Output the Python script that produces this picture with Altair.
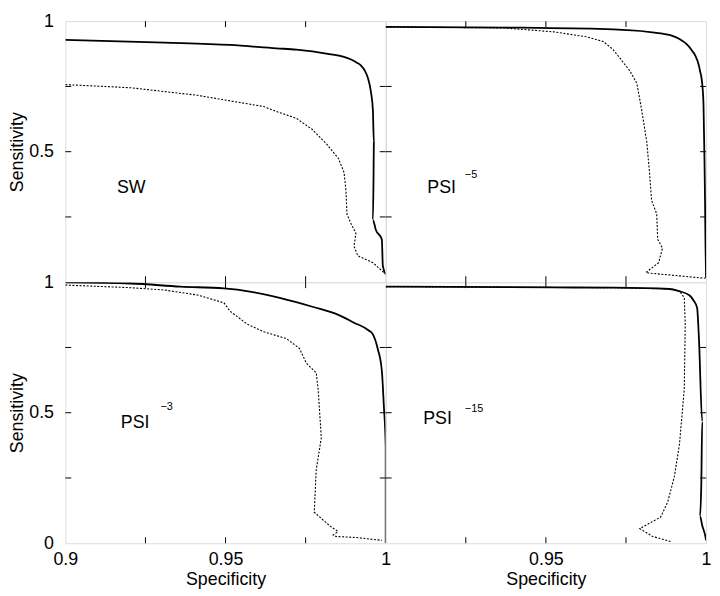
import altair as alt
import pandas as pd

# ---------------- data ----------------
# Panel SW
sw_solid_spec = [0.9000, 0.9310, 0.9514, 0.9659, 0.9721, 0.9824, 0.9867, 0.9892, 0.9910, 0.9923,
                 0.9935, 0.9944, 0.9954, 0.9960, 0.9963, 0.9962, 0.9960, 0.9969, 0.9988, 0.9991,
                 1.0000]
sw_solid_sens = [0.928, 0.918, 0.909, 0.896, 0.891, 0.874, 0.864, 0.853, 0.841, 0.830,
                 0.810, 0.784, 0.728, 0.660, 0.537, 0.400, 0.239, 0.201, 0.164, 0.063,
                 0.030]
sw_dot_spec = [0.9000, 0.9204, 0.9412, 0.9619, 0.9659, 0.9721, 0.9770, 0.9815, 0.9852, 0.9870,
               0.9876, 0.9879, 0.9892, 0.9907, 0.9901, 0.9913, 0.9960, 0.9994]
sw_dot_sens = [0.757, 0.745, 0.716, 0.673, 0.654, 0.628, 0.586, 0.530, 0.475, 0.420,
               0.350, 0.261, 0.224, 0.187, 0.138, 0.101, 0.075, 0.037]

# Panel PSI -5
p5_solid_spec = [0.9000, 0.9423, 0.9710, 0.9864, 0.9895, 0.9917, 0.9941, 0.9957, 0.9966, 0.9978,
                 0.9981, 0.9988, 0.9992, 0.9995, 0.9997, 0.9998, 1.0000]
p5_solid_sens = [0.978, 0.975, 0.969, 0.952, 0.944, 0.932, 0.910, 0.886, 0.869, 0.828,
                 0.810, 0.760, 0.679, 0.474, 0.287, 0.164, 0.015]
p5_dot_spec = [0.9000, 0.9370, 0.9525, 0.9627, 0.9679, 0.9710, 0.9762, 0.9784, 0.9799, 0.9815,
               0.9824, 0.9830, 0.9846, 0.9849, 0.9864, 0.9852, 0.9812, 0.9830, 0.9997]
p5_dot_sens = [0.978, 0.974, 0.959, 0.940, 0.922, 0.891, 0.810, 0.761, 0.660, 0.537,
               0.412, 0.313, 0.261, 0.164, 0.131, 0.075, 0.037, 0.034, 0.015]

# Panel PSI -3
p3_solid_spec = [0.9000, 0.9204, 0.9359, 0.9495, 0.9576, 0.9669, 0.9774, 0.9854, 0.9901, 0.9947,
                 0.9960, 0.9975, 0.9988, 0.9994, 1.0000, 1.0000]
p3_solid_sens = [0.999, 0.995, 0.983, 0.976, 0.964, 0.940, 0.905, 0.874, 0.845, 0.815,
                 0.800, 0.745, 0.660, 0.530, 0.370, 0.000]
p3_dot_spec = [0.9000, 0.9204, 0.9310, 0.9412, 0.9495, 0.9514, 0.9567, 0.9619, 0.9690, 0.9731,
               0.9752, 0.9783, 0.9789, 0.9799, 0.9783, 0.9777, 0.9824, 0.9851, 0.9836, 0.9845,
               0.9907, 0.9988]
p3_dot_sens = [0.989, 0.979, 0.970, 0.951, 0.921, 0.889, 0.840, 0.810, 0.784, 0.746,
               0.690, 0.653, 0.591, 0.404, 0.280, 0.119, 0.068, 0.045, 0.031, 0.026,
               0.022, 0.011]

# Panel PSI -15
p15_solid_spec = [0.9000, 0.9525, 0.9710, 0.9886, 0.9915, 0.9948, 0.9962, 0.9972, 0.9978, 0.9988,
                  0.9985, 0.9981, 0.9988, 0.9997, 1.0000]
p15_solid_sens = [0.983, 0.980, 0.979, 0.974, 0.966, 0.950, 0.928, 0.902, 0.777, 0.466,
                  0.218, 0.104, 0.068, 0.031, 0.011]
p15_dot_spec = [0.9000, 0.9710, 0.9886, 0.9917, 0.9932, 0.9935, 0.9932, 0.9917, 0.9901, 0.9880,
                0.9858, 0.9793, 0.9833, 0.9889]
p15_dot_sens = [0.983, 0.979, 0.974, 0.966, 0.940, 0.840, 0.591, 0.380, 0.255, 0.157,
                0.100, 0.056, 0.026, 0.007]

x_tick_values = [0.925, 0.95, 0.975]
y_tick_values = [0.25, 0.5, 0.75]

FONT = "Liberation Sans"
W, H = 324, 264
X_DOM = [0.9, 1.0]
Y_DOM = [0.0, 1.0]


def curve_df(spec, sens):
    return pd.DataFrame({"spec": spec, "sens": sens, "i": list(range(len(spec)))})


def panel(solid, dotted, label, sup, lab_xy, sup_xy, x_labels, y_labels):
    if x_labels is not None:
        x_axis = alt.Axis(values=x_labels, format="~g", ticks=False, domain=False, grid=False,
                          labelFlush=False, title="Specificity", labelFontSize=18, titleFontSize=18,
                          titleFontWeight="normal", labelPadding=7, titlePadding=3,
                          labelColor="black", titleColor="black", labelFont=FONT, titleFont=FONT)
    else:
        x_axis = None
    if y_labels is not None:
        y_axis = alt.Axis(values=y_labels, format="~g", ticks=False, domain=False, grid=False,
                          labelFlush=False, title="Sensitivity", labelFontSize=18, titleFontSize=18,
                          titleFontWeight="normal", labelPadding=12, titlePadding=2,
                          labelColor="black", titleColor="black", labelFont=FONT, titleFont=FONT)
    else:
        y_axis = None
    xs = alt.Scale(domain=X_DOM, nice=False, zero=False)
    ys = alt.Scale(domain=Y_DOM, nice=False)
    x_enc = alt.X("spec:Q", scale=xs, axis=x_axis)
    y_enc = alt.Y("sens:Q", scale=ys, axis=y_axis)

    solid_l = alt.Chart(curve_df(*solid)).mark_line(
        color="black", strokeWidth=1.8, clip=True, interpolate="monotone"
    ).encode(x=x_enc, y=y_enc, order="i:Q")
    dot_l = alt.Chart(curve_df(*dotted)).mark_line(
        color="black", strokeWidth=1.1, strokeDash=[2, 1.6], clip=True
    ).encode(x=x_enc, y=y_enc, order="i:Q")

    xt = pd.DataFrame({"spec": x_tick_values})
    yt = pd.DataFrame({"sens": y_tick_values})
    tk = dict(color="black", strokeWidth=1)
    t_top = alt.Chart(xt).mark_rule(**tk).encode(x=x_enc, y=alt.value(0), y2=alt.value(6))
    t_bot = alt.Chart(xt).mark_rule(**tk).encode(x=x_enc, y=alt.value(H - 6), y2=alt.value(H))
    t_left = alt.Chart(yt).mark_rule(**tk).encode(y=y_enc, x=alt.value(0), x2=alt.value(6))
    t_right = alt.Chart(yt).mark_rule(**tk).encode(y=y_enc, x=alt.value(W - 6), x2=alt.value(W))

    txt = alt.Chart().mark_text(
        text=label, font=FONT, fontSize=18, align="left", baseline="middle", color="black"
    ).encode(x=alt.XDatum(lab_xy[0], scale=xs, axis=x_axis), y=alt.YDatum(lab_xy[1], scale=ys, axis=y_axis))
    layers = [dot_l, solid_l, t_top, t_bot, t_left, t_right, txt]
    if sup:
        sup_t = alt.Chart().mark_text(
            text=sup, font=FONT, fontSize=11, align="left", baseline="middle", color="black"
        ).encode(x=alt.XDatum(sup_xy[0], scale=xs, axis=x_axis), y=alt.YDatum(sup_xy[1], scale=ys, axis=y_axis))
        layers.append(sup_t)
    return alt.layer(*layers).properties(width=W, height=H)


tl = panel((sw_solid_spec, sw_solid_sens), (sw_dot_spec, sw_dot_sens),
           "SW", None, (0.9161, 0.362), None, None, [0.5, 1.0])
tr = panel((p5_solid_spec, p5_solid_sens), (p5_dot_spec, p5_dot_sens),
           "PSI", "\u22125", (0.9130, 0.362), (0.9247, 0.41), None, None)
bl = panel((p3_solid_spec, p3_solid_sens), (p3_dot_spec, p3_dot_sens),
           "PSI", "\u22123", (0.9173, 0.459), (0.9297, 0.522), [0.9, 0.95, 1.0], [0.0, 0.5, 1.0])
br = panel((p15_solid_spec, p15_solid_sens), (p15_dot_spec, p15_dot_sens),
           "PSI", "\u221215", (0.9117, 0.474), (0.9247, 0.515), [0.95, 1.0], None)

chart = alt.concat(tl, tr, bl, br, columns=2, spacing=0, bounds="flush").properties(
    padding={"left": 0, "top": 0, "right": 0, "bottom": 0}
).configure_view(stroke="#222222", strokeWidth=1.3).configure(background="white")

chart.save("out.html", embed_options={"renderer": "svg", "actions": False})
